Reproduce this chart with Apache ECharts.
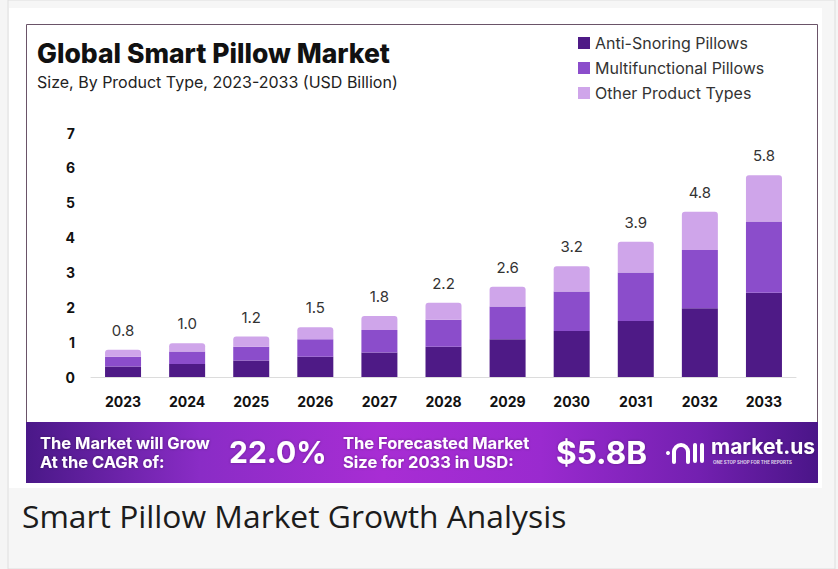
<!DOCTYPE html>
<html>
<head>
<meta charset="utf-8">
<script src="https://cdn.jsdelivr.net/npm/echarts@6/dist/echarts.min.js"></script>
<style>
  html, body { margin: 0; padding: 0; background: #f5f5f5; }
  #chart { width: 838px; height: 569px; }
</style>
</head>
<body>
<div id="chart"></div>
<script>
const years = ['2023', '2024', '2025', '2026', '2027', '2028', '2029', '2030', '2031', '2032', '2033'];
const antiSnoring = [0.30, 0.37, 0.47, 0.58, 0.70, 0.87, 1.08, 1.32, 1.61, 1.97, 2.42];
const multifunctional = [0.28, 0.36, 0.40, 0.50, 0.65, 0.77, 0.94, 1.13, 1.39, 1.67, 2.04];
const otherTypes = [0.20, 0.24, 0.29, 0.35, 0.40, 0.49, 0.57, 0.73, 0.88, 1.10, 1.33];
const totalLabels = ['0.8', '1.0', '1.2', '1.5', '1.8', '2.2', '2.6', '3.2', '3.9', '4.8', '5.8'];
const seriesNames = ['Anti-Snoring Pillows', 'Multifunctional Pillows', 'Other Product Types'];
const yTicks = [0, 1, 2, 3, 4, 5, 6, 7];

const colors = ['#4e1a86', '#8b4dcb', '#cfa5ea'];
const font = 'Inter, "Noto Sans", sans-serif';

const chart = echarts.init(document.getElementById('chart'), null, { renderer: 'svg' });

const bannerGradient = new echarts.graphic.LinearGradient(0, 0, 1, 0, [
  { offset: 0, color: '#4a1888' },
  { offset: 0.22, color: '#8a2cc6' },
  { offset: 0.45, color: '#a82dd4' },
  { offset: 0.65, color: '#9a2acf' },
  { offset: 0.85, color: '#7320b0' },
  { offset: 1, color: '#4a1588' }
]);

const bannerText = (x, y, text, size) => ({
  type: 'text', x: x, y: y, z: 10,
  style: { text: text, fill: '#ffffff', font: 'bold ' + size + 'px ' + font,
           verticalAlign: 'middle',
           textShadowColor: 'rgba(0,0,0,0.3)', textShadowBlur: 3 }
});

const option = {
  animation: false,
  backgroundColor: 'transparent',
  title: {
    text: 'Global Smart Pillow Market',
    subtext: 'Size, By Product Type, 2023-2033 (USD Billion)',
    left: 32, top: 34, itemGap: 8,
    textStyle: { fontFamily: font, fontSize: 26.5, fontWeight: 800, color: '#111111' },
    subtextStyle: { fontFamily: font, fontSize: 16, color: '#222222' }
  },
  legend: {
    orient: 'vertical', left: 573, top: 30, itemWidth: 12, itemHeight: 12, itemGap: 9,
    icon: 'rect', data: seriesNames,
    textStyle: { fontFamily: font, fontSize: 16, color: '#333333' }
  },
  grid: { left: 91, right: 42, top: 133, bottom: 192 },
  xAxis: {
    type: 'category', data: years,
    axisLine: { lineStyle: { color: '#dcdcdc', width: 1 } },
    axisTick: { show: false },
    axisLabel: { fontFamily: font, fontSize: 14, fontWeight: 'bold', color: '#111111', margin: 17 }
  },
  yAxis: {
    type: 'value', min: yTicks[0], max: yTicks[yTicks.length - 1], interval: 1,
    splitLine: { show: false },
    axisLine: { show: false }, axisTick: { show: false },
    axisLabel: { fontFamily: font, fontSize: 14, fontWeight: 'bold', color: '#111111', margin: 16 }
  },
  series: [
    { name: seriesNames[0], type: 'bar', stack: 'total', data: antiSnoring, barWidth: 36,
      itemStyle: { color: colors[0] } },
    { name: seriesNames[1], type: 'bar', stack: 'total', data: multifunctional, barWidth: 36,
      itemStyle: { color: colors[1] } },
    { name: seriesNames[2], type: 'bar', stack: 'total', data: otherTypes, barWidth: 36,
      itemStyle: { color: colors[2], borderRadius: [3, 3, 0, 0] },
      label: { show: true, position: 'top', distance: 12, fontFamily: font, fontSize: 15,
               color: '#333333', formatter: p => totalLabels[p.dataIndex] } }
  ],
  graphic: [
    { type: 'rect', z: -10, shape: { x: 8, y: 0, width: 827, height: 569 },
      style: { fill: '#f6f6f6', stroke: '#dedede', lineWidth: 1 } },
    { type: 'rect', z: -9, shape: { x: 9, y: 8, width: 813, height: 480 },
      style: { fill: '#ffffff' } },
    { type: 'rect', z: -8, shape: { x: 26.5, y: 24.5, width: 791, height: 420 },
      style: { fill: '#ffffff', stroke: '#6a5468', lineWidth: 1 } },
    { type: 'rect', z: 5, shape: { x: 26, y: 422, width: 792, height: 61 },
      style: { fill: bannerGradient } },
    bannerText(40, 443, 'The Market will Grow', 16.5),
    bannerText(40, 462, 'At the CAGR of:', 16.5),
    bannerText(229, 452, '22.0%', 30),
    bannerText(343, 443, 'The Forecasted Market', 16.5),
    bannerText(343, 462, 'Size for 2033 in USD:', 16.5),
    bannerText(556, 452, '$5.8B', 31.5),
    { type: 'arc', z: 10,
      shape: { cx: 681, cy: 452, r: 7, startAngle: Math.PI, endAngle: Math.PI * 2 },
      style: { fill: 'none', stroke: '#ffffff', lineWidth: 4 } },
    { type: 'line', z: 10, shape: { x1: 674, y1: 452, x2: 674, y2: 462 },
      style: { stroke: '#ffffff', lineWidth: 4, lineCap: 'round' } },
    { type: 'line', z: 10, shape: { x1: 688, y1: 452, x2: 688, y2: 462 },
      style: { stroke: '#ffffff', lineWidth: 4, lineCap: 'round' } },
    { type: 'circle', z: 10, shape: { cx: 668, cy: 453, r: 2 }, style: { fill: '#ffffff' } },
    { type: 'rect', z: 10, shape: { x: 693, y: 443, width: 4, height: 20, r: 2 }, style: { fill: '#ffffff' } },
    { type: 'rect', z: 10, shape: { x: 700, y: 443, width: 4, height: 20, r: 2 }, style: { fill: '#ffffff' } },
    bannerText(711, 446, 'market.us', 21),
    { type: 'text', x: 713, y: 462, z: 10,
      style: { text: 'ONE STOP SHOP FOR THE REPORTS', fill: 'rgba(255,255,255,0.8)',
               font: 'bold 4.5px ' + font, verticalAlign: 'middle' } },
    { type: 'text', x: 22, y: 515, z: 10,
      style: { text: 'Smart Pillow Market Growth Analysis', fill: '#1c1c1c',
               font: '31.8px "Open Sans", "Noto Sans", sans-serif', verticalAlign: 'middle' } }
  ]
};
chart.setOption(option);
</script>
</body>
</html>
